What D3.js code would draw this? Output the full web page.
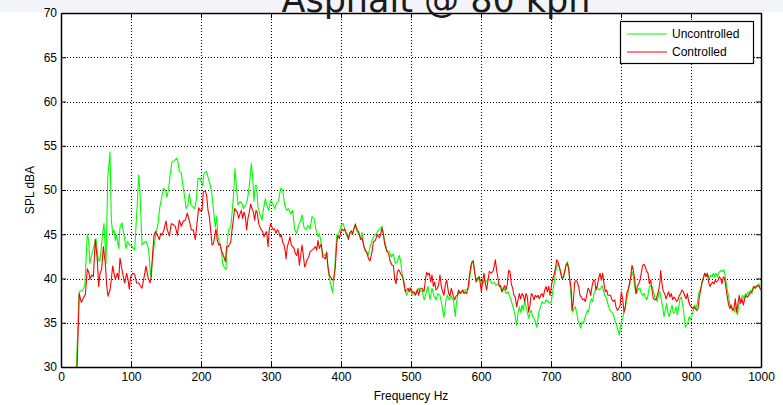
<!DOCTYPE html>
<html>
<head>
<meta charset="utf-8">
<script src="https://cdn.jsdelivr.net/npm/d3@7"></script>
<style>
  html, body { margin: 0; padding: 0; background: #fff; }
  svg { display: block; }
</style>
</head>
<body>
<svg id="chart" width="783" height="405"></svg>
<script>
// --- data ---
const titleText = 'Asphalt @ 80 kph';
const xLabel = 'Frequency Hz';
const yLabel = 'SPL dBA';
const xTicks = [0, 100, 200, 300, 400, 500, 600, 700, 800, 900, 1000];
const yTicks = [30, 35, 40, 45, 50, 55, 60, 65, 70];
const seriesNames = ['Uncontrolled', 'Controlled'];

const uncFreq = [
  22, 26, 31, 34, 37.6, 39.5, 41.4, 44.8, 47.6, 50, 53.3, 55.7, 59.5, 61.4, 64.3, 66.7, 70, 71.9, 73.8, 75.7,
  77.6, 79.5, 82.4, 84.3, 87.1, 90, 92.9, 94.8, 97.6, 101.4, 105.2, 109, 111, 112.9, 115.7, 117.6, 121.4, 124.8, 126, 128,
  130, 132.9, 135.7, 138.6, 141, 143.3, 146.2, 149, 151.4, 153.8, 156.2, 158.6, 161.9, 165.2, 167, 169, 171.9, 173.8, 176.7, 178.6,
  181.4, 183.3, 185.7, 188.6, 191, 193.3, 195.7, 198.6, 202.4, 204.3, 208, 210.5, 212.9, 215.7, 217.6, 220.5, 222.4, 224.3, 227.1, 229,
  231, 232.9, 235.7, 237.6, 239.5, 242.4, 244.3, 246.2, 248.6, 251, 252.9, 255.7, 258.6, 260.5, 263.3, 266.2, 269, 271.9, 273.8, 275.7,
  277.6, 279.5, 281.4, 284.3, 287.1, 289, 291.9, 294.8, 296.7, 299.5, 302.4, 305.2, 308, 310.9, 313.8, 316.7, 319.5, 322.4, 325.2, 328,
  331, 333.8, 336.7, 339.5, 342.4, 344.3, 347.1, 350, 352.9, 355.7, 358.6, 361.4, 364.3, 367.1, 369, 371, 373.8, 376.7, 379.5, 382.4,
  385.2, 388, 391, 393.8, 396.7, 401, 403.3, 405.2, 407.1, 410, 412.9, 415.7, 418.6, 420.5, 422.4, 425.2, 428.1, 430, 432.9, 435.7,
  438.6, 441.4, 444.3, 447.1, 450, 452.9, 455.7, 458.6, 460.5, 463.3, 466.2, 469, 471.9, 474.8, 477.6, 480.5, 483.3, 485.2, 487.1, 490,
  491.9, 493.8, 496.7, 498.6, 501.4, 504.3, 507.1, 510, 512.9, 515.7, 518.6, 520.5, 522.4, 524.3, 527.1, 530, 532.9, 535.7, 538.6, 541.4,
  544.3, 547.1, 550, 551.9, 554.8, 557.6, 560.5, 563.3, 565.2, 568.1, 571, 573.8, 576.7, 579.5, 582.4, 584.3, 587.1, 589, 591, 592.9,
  595.7, 597.6, 601.4, 604.3, 607.1, 610, 612.9, 615.7, 618.6, 621.4, 624.3, 627.1, 630, 632.9, 635.7, 638.6, 641.4, 644.3, 647.1, 649,
  651, 652.9, 654.8, 656.7, 658.6, 660.5, 662.4, 664.3, 666.2, 668.1, 670, 671.9, 673.8, 675.7, 677.6, 679.5, 681.4, 683.3, 685.2, 687.1,
  689, 691, 692.9, 695.7, 698.6, 700.5, 702.4, 704.3, 706.2, 708.1, 710, 711.9, 713.8, 715.7, 717.6, 719.5, 721.4, 723.3, 725.2, 727.1,
  729, 731, 732.9, 734.8, 736.7, 738.6, 740.5, 742.4, 744.3, 746.2, 748.1, 750, 751.9, 753.8, 755.7, 757.6, 759.5, 761.4, 763.3, 765.2,
  767.1, 769, 771, 772.9, 774.8, 776.7, 778.6, 780.5, 782.4, 784.3, 786.2, 788.1, 790, 791.9, 793.8, 795.7, 797.6, 800.5, 802.4, 804.3,
  806.2, 808.1, 810, 811.9, 813.8, 815.7, 817.6, 819.5, 821.4, 823.3, 825.2, 827.1, 829, 831, 832.9, 834.8, 836.7, 838.6, 840.5, 842.4,
  844.3, 846.2, 848.1, 850, 851.9, 853.8, 855.7, 857.6, 859.5, 861.4, 863.3, 865.2, 867.1, 869, 871, 872.9, 874.8, 876.7, 878.6, 880.5,
  882.4, 884.3, 886.2, 888.1, 890, 891.9, 893.8, 895.7, 897.6, 899.5, 901.4, 903.3, 905.2, 907.1, 909, 911, 912.9, 914.8, 916.7, 918.6,
  920.5, 922.4, 924.3, 926.2, 928.1, 930, 931.9, 933.8, 935.7, 937.6, 939.5, 941.4, 943.3, 945.2, 947.1, 949, 951, 952.9, 954.8, 956.7,
  958.6, 960.5, 962.4, 964.3, 966.2, 968.1, 970, 971.9, 973.8, 975.7, 977.6, 979.5, 981.4, 983.3, 985.2, 987.1, 989, 991, 992.9, 994.8,
  996.7, 998.6
];
const uncSpl = [
  30, 38.5, 38.7, 39.2, 45, 44.3, 41.7, 43, 43.8, 44.5, 42, 42, 45.1, 46.2, 41.7, 51.2, 54.3, 46.6, 45.1, 45.5,
  44.3, 44.9, 43.4, 45.8, 46.3, 44.9, 43.4, 44.2, 43.8, 43.6, 43.2, 48.5, 51.7, 49.7, 43.8, 44, 44.2, 43.4, 42.5, 40.2,
  41.7, 43.6, 45.1, 46.2, 48, 48.9, 50.2, 50, 49.2, 50.2, 51.9, 53.2, 53.3, 53.6, 53.2, 52.1, 51.9, 50.7, 49.2, 47.9,
  48.3, 49.6, 48.3, 48.1, 47.9, 48.9, 51.3, 51.3, 50.5, 51.9, 52.1, 51.3, 50.7, 49.4, 47.9, 45.8, 47, 44.7, 43.9, 43.2,
  41.7, 41.3, 41, 44.3, 45.5, 45.8, 47.3, 49.2, 52.4, 50, 48.3, 48.7, 48.5, 47.9, 48.3, 48.8, 50.5, 53, 51.5, 48.7,
  50.5, 50.5, 48.1, 47.2, 46.6, 47.7, 49, 48.1, 47.7, 48.8, 48.5, 47.9, 48.5, 48.8, 50.2, 50, 48.3, 47.7, 47.9, 47.3,
  47.7, 45.5, 45.1, 46, 46.6, 47.2, 45.8, 45.5, 46, 45.6, 47, 46.8, 45.5, 44.7, 45.1, 44.3, 42.8, 42.6, 42.8, 40.5,
  39.4, 38.4, 40.9, 44.9, 45.1, 46.1, 46.2, 45.6, 45, 44.6, 45.2, 45, 45.6, 46.2, 45.4, 45, 44.6, 45.2, 43.5, 43.1,
  42.6, 43.5, 44.3, 44.8, 45, 45.4, 45.6, 45.9, 45, 43.9, 43.1, 43.1, 42.4, 42.8, 41.7, 41.9, 42.6, 42, 40.6, 39.1,
  38.5, 38.1, 38.7, 39, 38.1, 38.3, 38.3, 38.9, 38.5, 38.7, 37.6, 38, 38.7, 39.1, 37.6, 38.9, 38, 37.6, 38.3, 38.1,
  36.9, 35.6, 37.6, 38.1, 37.6, 38, 37.6, 35.7, 37.4, 38.5, 38.3, 38.5, 38.7, 38.7, 38.9, 40.4, 41.7, 41.9, 40.7, 40,
  39.8, 40.2, 39.2, 39.8, 39.6, 40, 39.8, 39.4, 39.6, 39.2, 39.4, 39.1, 38.5, 38.9, 38.3, 38.5, 37.9, 37.2, 36.4, 35.7,
  34.7, 36.1, 36.8, 36.2, 37, 36.4, 37.6, 36.8, 36.2, 35.5, 36.1, 36.4, 35.7, 35.5, 35.1, 34.5, 35.5, 36.4, 36.8, 37.4,
  37.2, 37.2, 37.6, 37.4, 37.2, 37.4, 38.5, 39.4, 40.6, 41.3, 41.7, 41.3, 40.9, 40.2, 40, 40.6, 41.5, 41.9, 41.3, 39.4,
  37.6, 36.2, 36.6, 36.8, 36.1, 35.3, 34.9, 34.4, 35.1, 34.9, 35.5, 35.9, 36.4, 36.2, 37.2, 37.7, 37.4, 38.3, 38.7, 39.1,
  38.9, 38.7, 38.9, 39.2, 38.7, 38.1, 37.9, 37.4, 36.8, 36.4, 36.2, 36.1, 35.7, 35.1, 34.7, 34.2, 33.6, 35.1, 35.5, 36.2,
  36.8, 37.6, 38.3, 39.2, 39.8, 40.8, 40.2, 39.1, 38.3, 38.5, 38.9, 38.9, 38.3, 38.1, 38.3, 37.9, 37.6, 38.1, 39.1, 39.2,
  39.1, 38.7, 37.9, 37.6, 37.4, 38.3, 38.5, 37.6, 36.8, 35.7, 36.4, 37.2, 36.1, 35.7, 36.4, 37, 36.1, 36.2, 36.8, 35.9,
  36.8, 37.7, 37.9, 37, 35.9, 34.5, 34.7, 35.1, 35.7, 35.3, 35.9, 36.4, 37, 36.6, 37.2, 38.3, 38.7, 39.1, 39.8, 40.4,
  40.6, 40.2, 40.4, 40, 40.4, 40.2, 40.6, 40.2, 40.6, 40.2, 40.6, 40.8, 40.9, 40.8, 41, 40.2, 39.1, 38.3, 37.4, 36.8,
  36.6, 36.6, 36.2, 36.8, 35.9, 36.8, 37.6, 37.7, 38.1, 37.7, 38.3, 38.1, 38.5, 38.3, 38.7, 38.3, 39.1, 38.9, 39.2, 39.1,
  39.4, 39.1
];

const ctlFreq = [
  23, 26, 29, 32, 34.8, 37.6, 40, 41.4, 43.8, 46.2, 49, 51.9, 53.8, 55.7, 58, 60.5, 63.3, 65.2, 67.1, 70,
  71.9, 73.8, 75.7, 77.6, 80.5, 82.4, 84.3, 86.2, 89, 91, 93.8, 95.7, 97.6, 99.5, 102.4, 105.2, 108, 111, 113.8, 115.7,
  118.6, 121.4, 124.3, 127.1, 129, 131, 132.9, 134.8, 137.6, 140.5, 142.4, 144.3, 147.1, 150, 151.9, 154.8, 157.6, 160.5, 163.3, 166.2,
  169, 171.9, 174.8, 177.6, 180.5, 183.3, 186.2, 189, 191.9, 194.8, 196.7, 198.6, 201.4, 203.3, 206.2, 208, 210, 211.9, 213.8, 215.7,
  217.6, 219.5, 221.4, 223.3, 225.2, 227.1, 229, 231, 232.9, 234.8, 236.7, 238.6, 240.5, 242.4, 244.3, 246.2, 248.1, 250, 251.9, 253.8,
  255.7, 257.6, 259.5, 261.4, 263.3, 265.2, 267.1, 269, 271, 272.9, 274.8, 276.7, 278.6, 280.5, 282.4, 284.3, 286.2, 288.1, 290, 291.9,
  293.8, 295.7, 297.6, 299.5, 301.4, 303.3, 305.2, 307.1, 309, 311, 312.9, 314.8, 316.7, 318.6, 320.5, 321.4, 323.3, 325.2, 327.1, 329,
  331, 332.9, 334.8, 336.7, 338.6, 340.5, 342.4, 344.3, 346.2, 348.1, 350, 351.9, 353.8, 355.7, 358.6, 361.4, 363.3, 365.2, 367.1, 369,
  371.9, 373.8, 375.7, 377.6, 379.5, 381.4, 383.3, 386.2, 388.1, 390, 391.9, 393.8, 395.7, 397.6, 401, 403.3, 405.2, 407.1, 409, 410.5,
  412.9, 414.8, 416.7, 418.6, 420.5, 422.4, 424.3, 426.2, 428.1, 430, 431.9, 434.8, 436.7, 439.5, 441.4, 444.3, 446.2, 449, 451.9, 454.8,
  456.7, 458.6, 460.5, 462.4, 465.2, 468.1, 470, 472.9, 474.8, 476.7, 478.6, 480.5, 482.4, 484.3, 486.2, 488.1, 490, 491.9, 493.8, 495.7,
  497.6, 499.5, 502.4, 504.3, 506.2, 509, 511, 512.9, 515.7, 518.6, 520.5, 522.4, 524.3, 526.2, 528.1, 530, 531.9, 533.8, 535.7, 537.6,
  539.5, 541.4, 543.3, 545.2, 547.1, 549, 551, 553.8, 555.7, 557.6, 560.5, 562.4, 564.3, 566.2, 568.1, 570, 571.9, 573.8, 575.7, 577.6,
  579.5, 581.4, 583.3, 585.2, 587.1, 589, 591, 592.9, 594.8, 597.6, 600.5, 602.4, 604.3, 606.2, 608.1, 610, 611.9, 614.8, 617.6, 620.5,
  622.4, 624.3, 626.2, 628.1, 630, 631.9, 633.8, 635.7, 637.6, 639.5, 641.4, 643.3, 645.2, 647.1, 649, 651, 652.9, 654.8, 656.7, 658.6,
  660.5, 662.4, 664.3, 666.2, 668.1, 670, 671.9, 673.8, 675.7, 677.6, 679.5, 681.4, 683.3, 685.2, 687.1, 689, 691, 692.9, 694.8, 696.7,
  698.6, 700.5, 702.4, 704.3, 706.2, 708.1, 710, 711.9, 713.8, 715.7, 717.6, 719.5, 721.4, 723.3, 725.2, 727.1, 729, 730, 731.9, 733.8,
  735.7, 737.6, 739.5, 741.4, 743.3, 745.2, 747.1, 749, 751, 752.9, 754.8, 756.7, 758.6, 760.5, 762.4, 764.3, 766.2, 768.1, 770, 771.9,
  773.8, 775.7, 777.6, 779.5, 781.4, 783.3, 785.2, 787.1, 789, 791, 792.9, 794.8, 796.7, 798.6, 800.5, 802.4, 804.3, 806.2, 808.1, 810,
  811.9, 813.8, 815.7, 817.6, 819.5, 821.4, 823.3, 825.2, 827.1, 829, 831, 832.9, 834.8, 836.7, 838.6, 840.5, 842.4, 844.3, 846.2, 848.1,
  850, 851.9, 853.8, 855.7, 856.7, 858.6, 860.5, 862.4, 864.3, 866.2, 868.1, 870, 871.9, 873.8, 875.7, 877.6, 879.5, 881.4, 883.3, 885.2,
  887.1, 889, 890.9, 892.9, 894.8, 896.7, 898.6, 900.5, 902.4, 904.3, 906.2, 908.1, 910, 911.9, 913.8, 915.7, 917.6, 919.5, 921.4, 923.3,
  925.2, 927.1, 929, 930.9, 932.9, 934.8, 936.7, 938.6, 940.5, 942.4, 944.3, 946.2, 948.1, 950, 951.9, 953.8, 955.7, 957.6, 959.5, 961.4,
  963.3, 965.2, 967.1, 969, 971, 972.9, 974.8, 976.7, 978.6, 980.5, 982.4, 984.3, 986.2, 988.1, 990, 991.9, 993.8, 995.7, 997.6, 999.5
];
const ctlSpl = [
  30, 38.3, 37.3, 37.8, 38.2, 41.1, 40.6, 39.9, 40.4, 40.2, 44.4, 42.1, 39.1, 40.6, 41, 43.6, 41.7, 39.3, 38, 38.7,
  39.9, 41.4, 40.6, 39.9, 40.6, 39.9, 42.3, 41.4, 40.2, 39.5, 40.6, 39.9, 38.8, 40.2, 40.6, 40.5, 39.5, 39.5, 39.1, 38.9,
  40.1, 41.4, 40.1, 39.5, 40.2, 42.9, 44.9, 45.3, 44.9, 44.4, 45.1, 44.9, 45.5, 46.5, 45.5, 44.8, 46.2, 46.1, 45.9, 44.9,
  46.6, 45.9, 46.5, 46.6, 47.4, 46.5, 45.5, 45.5, 44.4, 46.6, 48, 47.7, 47.7, 49.8, 49.9, 49.4, 47.7, 47, 45.5, 43.8,
  43.9, 44.7, 45.6, 44.3, 43.8, 43.9, 43.2, 42.8, 42.4, 41.9, 43.6, 43.6, 43.8, 44.1, 45.5, 46.6, 47.9, 47.7, 47.5, 46.8,
  47.3, 47.7, 46.8, 47.5, 47, 45.5, 46.8, 47.5, 48.4, 47.9, 47.5, 46.6, 47.7, 47.4, 46.2, 45.8, 45.5, 45.3, 44.7, 45.1,
  45.3, 43.6, 45.5, 46.2, 45.8, 45.5, 45.6, 45.1, 45.5, 45.3, 44.7, 44.9, 44.1, 43.8, 43, 42.2, 43.6, 44.1, 44.7, 43.8,
  43.6, 43.4, 42.8, 42.6, 43.4, 41.5, 42.6, 43.8, 42.6, 41.3, 41.7, 42.2, 42.4, 43, 43.2, 43.4, 43.6, 43.2, 44.3, 43.4,
  43.9, 42.4, 42.4, 42.2, 43, 41.3, 40.4, 40, 39.8, 40.2, 41.3, 43.9, 44.9, 44.5, 45.6, 45.4, 45.6, 45.2, 45, 44.4,
  45.2, 45.4, 45, 45.7, 46.1, 45.6, 45.4, 45, 44.4, 44.6, 43.9, 43.1, 43, 42.2, 42, 43, 44.1, 44.3, 45, 44.6,
  45, 45.7, 45, 43.9, 43.1, 42.8, 42, 41.5, 41.5, 40, 39.4, 40.7, 41, 40.7, 40.4, 40.2, 39.6, 38.5, 38.7, 38.9,
  38.5, 38.9, 38.4, 38.5, 38.1, 38.7, 38.1, 38.9, 38.9, 38.5, 39.8, 40.7, 40.4, 40.6, 39.6, 40.4, 39.1, 39.6, 38.7, 38.9,
  39.3, 40.4, 39.1, 38.5, 38.1, 39.3, 39.8, 38.3, 38, 38.9, 38, 37.6, 38, 38.1, 38.7, 38.3, 38.5, 38.7, 38.3, 38.5,
  38.3, 38.9, 40.2, 41.3, 41.9, 42, 40.7, 39.6, 40, 40.2, 38.5, 39.8, 40.6, 39.4, 38.7, 39.8, 40.8, 40.6, 40.9, 42.1,
  40.9, 40, 39.1, 39.2, 38.5, 38.9, 39.2, 38.7, 39.4, 40.9, 40.8, 39.4, 38.9, 38.1, 37.9, 36.8, 37.6, 38.3, 37.7, 38.3,
  38.1, 37.4, 38.3, 37.9, 36.2, 37, 38.3, 38.1, 37.6, 38.1, 37.9, 38.1, 37.7, 38.1, 38.3, 37.9, 38.7, 39.1, 38.5, 39.1,
  38.1, 39.1, 40, 40.4, 41.1, 42.1, 41.9, 41.3, 40.6, 40, 40.2, 40.8, 41.5, 41.7, 41.1, 39.8, 38.7, 36.4, 37.4, 39.6,
  39.8, 39.6, 39.1, 38.1, 37.9, 37.6, 37.7, 37.4, 38.1, 38.9, 38.7, 38.1, 39.1, 39.8, 39.8, 38.7, 39.2, 40, 40.6, 39.8,
  40.6, 39.4, 38.5, 38.7, 38.1, 38.1, 38.1, 37.6, 37.4, 37.6, 36.8, 36.4, 36.6, 36.9, 38.5, 37.7, 36.2, 36.8, 38.3, 38.7,
  39.4, 40.2, 41.5, 40.9, 40, 38.3, 39.1, 39.4, 39.8, 40.6, 41.5, 41.6, 41.3, 40.8, 40.6, 39.4, 39.8, 38.7, 37.7, 37.6,
  37.6, 38.1, 38.7, 39.6, 40.9, 39.4, 38.5, 38.3, 37.7, 38.1, 38.5, 37.9, 38.3, 37.6, 37.9, 37.7, 37.4, 37.6, 38.1, 38.3,
  38.7, 38.5, 38.1, 37.7, 38.3, 37.4, 37, 36.8, 36.6, 36.8, 36.6, 36.4, 36.6, 37.9, 38.7, 39.6, 40, 40.6, 40.2, 40.6,
  39.6, 39.1, 39.4, 39.6, 39.4, 39.8, 39.6, 39.8, 40.2, 40, 39.4, 40.2, 40, 38.9, 37.9, 37, 36.6, 37, 36.4, 36.6,
  37.7, 36.2, 37.2, 38.1, 37.2, 37.7, 37, 37.7, 38.1, 37.9, 38.1, 38.3, 38.5, 38.7, 39.1, 38.9, 39.1, 39.2, 39.1, 38.7
];

// --- layout ---
const width = 783, height = 405;
const plot = { left: 61, right: 761, top: 13, bottom: 367 };
const green = '#00ff00';
const red = '#ff0000';

const svg = d3.select('#chart');

const x = d3.scaleLinear().domain([0, 1000]).range([plot.left, plot.right]);
const y = d3.scaleLinear().domain([30, 70]).range([plot.bottom, plot.top]);

// light strip behind the title
svg.append('rect')
    .attr('x', 0).attr('y', 0)
    .attr('width', width).attr('height', 12)
    .attr('fill', '#f2f4fa');

// grid (dotted)
const grid = svg.append('g').attr('class', 'grid');
grid.selectAll('.gx')
    .data(xTicks.slice(1, -1))
    .join('line')
    .attr('x1', d => Math.round(x(d)) + 0.5).attr('x2', d => Math.round(x(d)) + 0.5)
    .attr('y1', plot.top).attr('y2', plot.bottom)
    .attr('stroke', '#000').attr('stroke-width', 1)
    .attr('stroke-dasharray', '1,2');
grid.selectAll('.gy')
    .data(yTicks.slice(1, -1))
    .join('line')
    .attr('y1', d => Math.round(y(d)) + 0.5).attr('y2', d => Math.round(y(d)) + 0.5)
    .attr('x1', plot.left).attr('x2', plot.right)
    .attr('stroke', '#000').attr('stroke-width', 1)
    .attr('stroke-dasharray', '1,2');

// clip to axes box
svg.append('clipPath').attr('id', 'clip')
    .append('rect')
    .attr('x', plot.left).attr('y', plot.top)
    .attr('width', plot.right - plot.left).attr('height', plot.bottom - plot.top);

const line = d3.line()
    .x(d => x(d[0]))
    .y(d => y(d[1]));

const lines = svg.append('g').attr('clip-path', 'url(#clip)');
lines.append('path')
    .datum(d3.zip(uncFreq, uncSpl))
    .attr('d', line)
    .attr('fill', 'none')
    .attr('stroke', green)
    .attr('stroke-width', 1.1)
    .attr('stroke-linejoin', 'round');
lines.append('path')
    .datum(d3.zip(ctlFreq, ctlSpl))
    .attr('d', line)
    .attr('fill', 'none')
    .attr('stroke', red)
    .attr('stroke-width', 1.1)
    .attr('stroke-linejoin', 'round');

// axes (ticks inside, MATLAB style)
const fontFamily = '"Liberation Sans", Arial, sans-serif';

const xAxis = svg.append('g')
    .attr('transform', `translate(0,${plot.bottom})`)
    .call(d3.axisBottom(x).tickValues(xTicks).tickFormat(d3.format('d'))
        .tickSizeInner(-5).tickSizeOuter(0).tickPadding(5));
const xAxisTop = svg.append('g')
    .attr('transform', `translate(0,${plot.top})`)
    .call(d3.axisTop(x).tickValues(xTicks).tickFormat('')
        .tickSizeInner(-5).tickSizeOuter(0));
const yAxis = svg.append('g')
    .attr('transform', `translate(${plot.left},0)`)
    .call(d3.axisLeft(y).tickValues(yTicks).tickFormat(d3.format('d'))
        .tickSizeInner(-5).tickSizeOuter(0).tickPadding(4));
const yAxisRight = svg.append('g')
    .attr('transform', `translate(${plot.right},0)`)
    .call(d3.axisRight(y).tickValues(yTicks).tickFormat('')
        .tickSizeInner(-5).tickSizeOuter(0));

[xAxis, xAxisTop, yAxis, yAxisRight].forEach(g => {
    g.select('.domain').attr('stroke', '#000').attr('stroke-width', 1.5);
    g.selectAll('.tick line').attr('stroke', '#000');
    g.selectAll('.tick text')
        .attr('fill', '#000')
        .style('font-family', fontFamily)
        .style('font-size', '12px');
});

// axis labels
svg.append('text')
    .attr('x', (plot.left + plot.right) / 2)
    .attr('y', 400)
    .attr('text-anchor', 'middle')
    .style('font-family', fontFamily)
    .style('font-size', '12px')
    .text(xLabel);

svg.append('text')
    .attr('transform', `translate(34,${(plot.top + plot.bottom) / 2}) rotate(-90)`)
    .attr('text-anchor', 'middle')
    .style('font-family', fontFamily)
    .style('font-size', '12px')
    .text(yLabel);

// title (top is cut off in the reference)
svg.append('text')
    .attr('x', 436)
    .attr('y', 12)
    .attr('text-anchor', 'middle')
    .attr('fill', '#1a1a1a')
    .style('font-family', '"DejaVu Sans", sans-serif')
    .style('font-size', '35px')
    .text(titleText);

// legend
const legend = svg.append('g').attr('transform', 'translate(620,21)');
legend.append('rect')
    .attr('x', 0.5).attr('y', 0.5)
    .attr('width', 133).attr('height', 42)
    .attr('fill', '#fff')
    .attr('stroke', '#000').attr('stroke-width', 1.2);

const legendItems = legend.selectAll('.item')
    .data(seriesNames)
    .join('g')
    .attr('transform', (d, i) => `translate(0,${13 + i * 18})`);
legendItems.append('line')
    .attr('x1', 7).attr('x2', 47)
    .attr('stroke', (d, i) => i === 0 ? green : red)
    .attr('stroke-width', 1.1);
legendItems.append('text')
    .attr('x', 52).attr('y', 4)
    .style('font-family', fontFamily)
    .style('font-size', '12px')
    .text(d => d);
</script>
</body>
</html>
